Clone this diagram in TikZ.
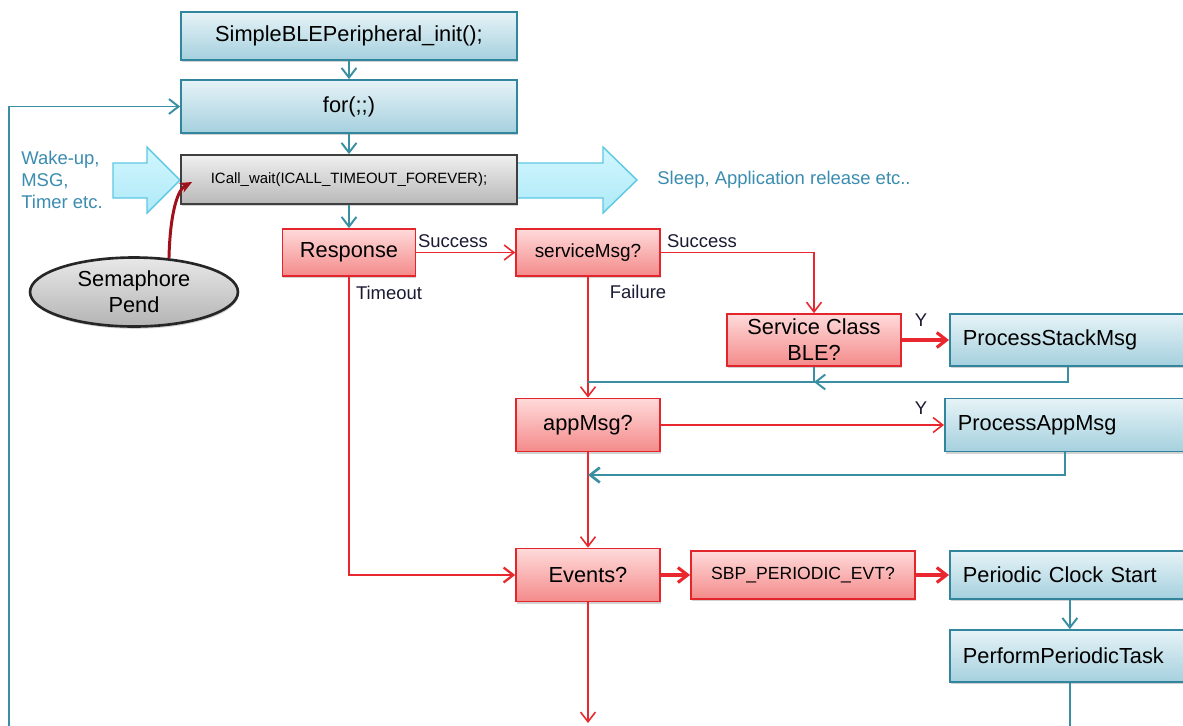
\documentclass[tikz,border=0pt]{standalone}
\usepackage{fontspec}
\setmainfont{Liberation Sans}
\usetikzlibrary{arrows.meta,shapes.geometric,shadows}

\definecolor{boxTeal}{HTML}{31859C}
\definecolor{blueTop}{HTML}{E6F3F7}
\definecolor{blueBot}{HTML}{A5D0DE}
\definecolor{redEdge}{HTML}{E3262C}
\definecolor{redTop}{HTML}{FFDADA}
\definecolor{redBot}{HTML}{F48A8A}
\definecolor{grayTop}{HTML}{F0F0F0}
\definecolor{grayBot}{HTML}{B8B8B8}
\definecolor{grayEdge}{HTML}{3F3F3F}
\definecolor{semTop}{HTML}{E8E8E8}
\definecolor{semBot}{HTML}{B4B4B4}
\definecolor{lineTeal}{HTML}{3A8FA3}
\definecolor{lineRed}{HTML}{E8282E}
\definecolor{semRed}{HTML}{A0101A}
\definecolor{cyanTop}{HTML}{D2F7FE}
\definecolor{cyanBot}{HTML}{AEE9F8}
\definecolor{cyanEdge}{HTML}{5CC8E3}
\definecolor{noteBlue}{HTML}{3A8CB0}
\definecolor{labelInk}{HTML}{1A1A33}

\newcommand\boxfont{\fontsize{12.4pt}{14.7pt}\selectfont}
\newcommand\svcfont{\fontsize{10.8pt}{12.5pt}\selectfont}
\newcommand\sbpfont{\fontsize{10pt}{12pt}\selectfont}
\newcommand\waitfont{\fontsize{8.5pt}{10pt}\selectfont}
\newcommand\lblfont{\fontsize{10.5pt}{12.5pt}\selectfont}

\begin{document}
\begin{tikzpicture}[x=0.02cm,y=-0.02cm,
  >={Straight Barb[length=5.5pt,width=8.5pt]},
  base/.style={line width=1pt, inner sep=0pt, font=\boxfont,
    drop shadow={shadow xshift=0.5pt,shadow yshift=-1.3pt,opacity=0.35}},
  bluebox/.style={base, draw=boxTeal, top color=blueTop, bottom color=blueBot},
  bluewide/.style={bluebox, anchor=west, align=left, text width=4.28cm, inner xsep=0.26cm},
  redbox/.style={base, draw=redEdge, top color=redTop, bottom color=redBot,
    minimum width=2.88cm, minimum height=1.06cm},
  graybox/.style={base, draw=grayEdge, top color=grayTop, bottom color=grayBot, font=\waitfont},
  semnode/.style={ellipse, draw=grayEdge!60!black, line width=1.5pt, top color=semTop,
    bottom color=semBot, font=\boxfont, align=center, inner sep=0pt,
    minimum width=4.16cm, minimum height=1.38cm,
    drop shadow={shadow xshift=0.5pt,shadow yshift=-1.3pt,opacity=0.35}},
  bigarrow/.style={draw=cyanEdge, line width=0.8pt, top color=cyanTop, bottom color=cyanBot},
  tealline/.style={draw=lineTeal, line width=1.1pt},
  redline/.style={draw=lineRed, line width=0.9pt},
  redthick/.style={draw=lineRed, line width=1.8pt},
  note/.style={font=\lblfont, text=noteBlue, inner sep=0pt},
  lbl/.style={font=\lblfont, text=labelInk, inner sep=0pt}]

\useasboundingbox (0,0) rectangle (1183,725);
\fill[white] (0,0) rectangle (1183,725);
\clip (0,0) rectangle (1183,725);

\draw[bigarrow] (113,163) -- (147,163) -- (147,147) -- (180,180) -- (147,213) -- (147,198) -- (113,198) -- cycle;
\draw[bigarrow] (500,163) -- (603,163) -- (603,147) -- (637,180) -- (603,213) -- (603,198) -- (500,198) -- cycle;
\node[note, anchor=west, align=left] (wake) at (21,180) {Wake-up,\\MSG,\\Timer etc.};
\node[note, anchor=west] (sleep) at (657,180) {Sleep, Application release etc..};

\node[bluebox, minimum width=6.72cm, minimum height=0.96cm] (init) at (349,36) {SimpleBLEPeripheral\_init();};
\node[bluebox, minimum width=6.72cm, minimum height=1.06cm] (loop) at (349,106.5) {for(;;)};
\node[graybox, minimum width=6.72cm, minimum height=0.98cm] (wait) at (349,179.5) {ICall\_wait(ICALL\_TIMEOUT\_FOREVER);};
\node[semnode] (sem) at (134,292) {Semaphore\\Pend};

\node[redbox, minimum width=2.66cm, minimum height=0.94cm] (resp) at (349,252.5) {Response};
\node[redbox, minimum height=0.94cm, font=\svcfont] (svcq) at (588,252.5) {serviceMsg?};
\node[redbox, minimum width=3.48cm, minimum height=1.04cm, align=center] (cls) at (814,340) {Service Class\\BLE?};
\node[redbox] (app) at (588,425) {appMsg?};
\node[redbox] (evt) at (588,575) {Events?};
\node[redbox, minimum width=4.48cm, minimum height=0.96cm, font=\sbpfont] (sbp) at (803,575) {SBP\_PERIODIC\_EVT?};

\node[bluewide, text width=4.2cm, minimum height=1.04cm] (stack) at (949,340) {ProcessStackMsg};
\node[bluewide, minimum height=1.06cm] (appproc) at (944,425) {ProcessAppMsg};
\node[bluewide, minimum height=0.96cm] (clock) at (949,575) {Periodic Clock Start};
\node[bluewide, minimum height=1.04cm] (task) at (949,656) {PerformPeriodicTask};

\coordinate (loopStart) at (9,730);
\coordinate (join1) at (588,382);
\coordinate (join2) at (588,475);
\coordinate (evtOut) at (588,723);
\coordinate (taskOut) at (1069,730);

\foreach \a/\b in {init/loop,loop/wait,wait/resp,clock/task}
  \draw[tealline,->] (\a) -- (\b);
\draw[tealline,->] (loopStart) |- (loop.west);
\draw[semRed, line width=1.7pt, -{Stealth[length=7pt,width=6pt]}] (sem.44) .. controls (170,215) and (177,190) .. ([xshift=0.24cm,yshift=-0.05cm]wait.west);

\draw[redline,->] (resp) -- (svcq);
\draw[redline,->] (svcq.east) -| (cls.north);
\draw[redline,->] (svcq) -- (app);
\draw[redline,->] (app) -- (appproc);
\draw[redline,->] (app) -- (evt);
\draw[redline, line width=1.3pt, ->] (resp.south) |- (evt.west);
\draw[redline,->] (evt.south) -- (evtOut);
\foreach \a/\b in {cls/stack,evt/sbp,sbp/clock}
  \draw[redthick,->] (\a) -- (\b);

\draw[tealline] (cls.south) |- (join1);
\draw[tealline,->] (stack.south) |- (cls.south |- join1);
\draw[tealline, line width=1.5pt, ->] (appproc.south) |- (join2);
\draw[tealline] (task.south) -- (task.south |- taskOut);

\node[lbl] (succ1) at (453,241) {Success};
\node[lbl] (succ2) at (702,241) {Success};
\node[lbl] (tmo) at (389,293) {Timeout};
\node[lbl] (fail) at (638,292) {Failure};
\node[lbl] (yes1) at (921,320) {Y};
\node[lbl] (yes2) at (921,408) {Y};
\end{tikzpicture}
\end{document}
